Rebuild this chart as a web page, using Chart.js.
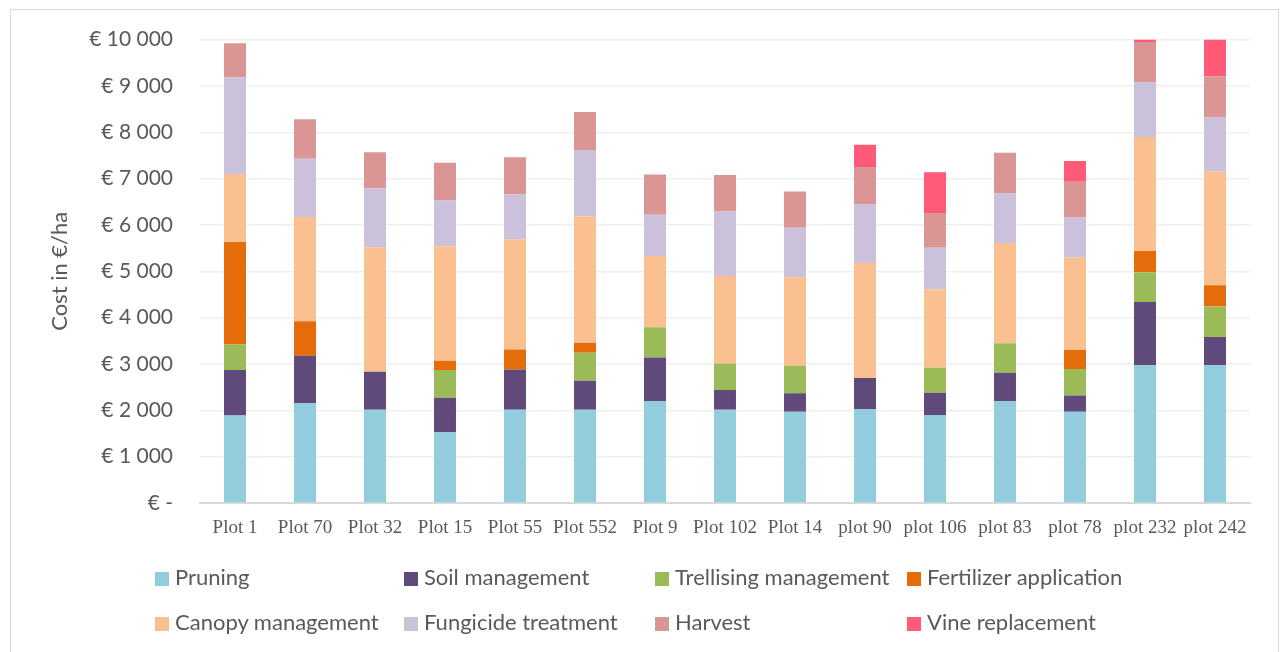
<!DOCTYPE html>
<html>
<head>
<meta charset="utf-8">
<script src="https://cdn.jsdelivr.net/npm/chart.js@4"></script>
<style>
  body { margin: 0; background: #fff; }
  #wrap { position: absolute; left: 0; top: 0; width: 1283px; height: 652px; }
  #frame { position: absolute; left: 10px; top: 9px; width: 1267px; height: 660px; border: 1px solid #d9d9d9; }
  .leg { position: absolute; font-family: Lato, sans-serif; font-size: 22px; color: #595959; white-space: nowrap; line-height: 26px; }
  .leg i { display: inline-block; width: 14px; height: 14px; margin-right: 6px; vertical-align: -1px; }
</style>
</head>
<body>
<div id="frame"></div>
<div id="wrap"><canvas id="chart"></canvas></div>
<div id="legend"></div>
<script>
const categories = ["Plot 1", "Plot 70", "Plot 32", "Plot 15", "Plot 55", "Plot 552", "Plot 9", "Plot 102",
  "Plot 14", "plot 90", "plot 106", "plot 83", "plot 78", "plot 232", "plot 242"];

const pruning = [1890, 2160, 2010, 1530, 2010, 2010, 2200, 2010, 1970, 2030, 1900, 2200, 1970, 2970, 2970];
const soilManagement = [980, 1020, 820, 740, 870, 630, 940, 430, 400, 670, 480, 610, 350, 1370, 610];
const trellising = [550, 0, 0, 600, 0, 600, 650, 570, 590, 0, 540, 640, 570, 640, 660];
const fertilizer = [2210, 740, 0, 200, 430, 220, 0, 0, 0, 0, 0, 0, 410, 460, 460];
const canopy = [1470, 2250, 2690, 2470, 2380, 2730, 1540, 1890, 1910, 2480, 1690, 2160, 2000, 2460, 2450];
const fungicide = [2090, 1260, 1270, 990, 970, 1430, 890, 1390, 1070, 1260, 900, 1070, 860, 1180, 1170];
const harvest = [730, 850, 780, 810, 800, 820, 870, 790, 780, 810, 750, 880, 770, 870, 890];
const vineReplacement = [0, 0, 0, 0, 0, 0, 0, 0, 0, 480, 880, 0, 450, 50, 790];

const series = [
  { label: "Pruning", data: pruning, color: "#93cddd" },
  { label: "Soil management", data: soilManagement, color: "#604a7b" },
  { label: "Trellising management", data: trellising, color: "#9bbb59" },
  { label: "Fertilizer application", data: fertilizer, color: "#e46c0a" },
  { label: "Canopy management", data: canopy, color: "#fac090" },
  { label: "Fungicide treatment", data: fungicide, color: "#ccc1da" },
  { label: "Harvest", data: harvest, color: "#d99694" },
  { label: "Vine replacement", data: vineReplacement, color: "#ff5b79" },
];

// legend in Excel-like grid: 4 columns, 2 rows
const legendCols = [155, 404, 655, 907];
const legendRows = [564, 609];
series.forEach(function (s, i) {
  const el = document.createElement("div");
  el.className = "leg";
  el.style.left = legendCols[i % 4] + "px";
  el.style.top = legendRows[Math.floor(i / 4)] + "px";
  el.innerHTML = `<i style="background:${s.color}"></i>${s.label}`;
  document.getElementById("legend").appendChild(el);
});

function euro(v) {
  if (v === 0) return "€ -";
  return "€ " + String(v).replace(/\B(?=(\d{3})+(?!\d))/g, " ");
}

const canvasRef = document.getElementById("chart");

const myChart = new Chart(canvasRef, {
  type: "bar",
  data: {
    labels: categories,
    datasets: series.map(function (s) {
      return {
        label: s.label,
        data: s.data,
        backgroundColor: s.color,
        borderWidth: 0,
        barPercentage: 0.314,
        categoryPercentage: 1,
      };
    }),
  },
  options: {
    responsive: true,
    maintainAspectRatio: false,
    animation: false,
    layout: { padding: { left: 20, right: 33, top: 38, bottom: 0 } },
    plugins: {
      legend: { display: false },
      tooltip: { enabled: false },
    },
    scales: {
      x: {
        stacked: true,
        grid: { display: false, drawTicks: false },
        border: { display: true, color: "#d9d9d9", width: 2 },
        ticks: {
          color: "#595959",
          padding: 14,
          maxRotation: 0,
          autoSkip: false,
          font: { family: "'Liberation Serif', serif", size: 19 },
        },
        afterFit: function (scale) {
          scale.height = 149;
        },
      },
      y: {
        stacked: true,
        min: 0,
        max: 10000,
        grid: { color: "#efefef", lineWidth: 1.5, drawTicks: false },
        border: { display: false },
        ticks: {
          stepSize: 1000,
          color: "#595959",
          padding: 27,
          font: { family: "Lato, sans-serif", size: 21 },
          callback: function (v) {
            return euro(v);
          },
        },
        title: {
          display: true,
          text: "Cost in €/ha",
          color: "#595959",
          padding: { top: 27, bottom: 0 },
          font: { family: "Lato, sans-serif", size: 22, weight: "normal" },
        },
        afterFit: function (scale) {
          scale.width = 180;
        },
      },
    },
  },
});
</script>
</body>
</html>
